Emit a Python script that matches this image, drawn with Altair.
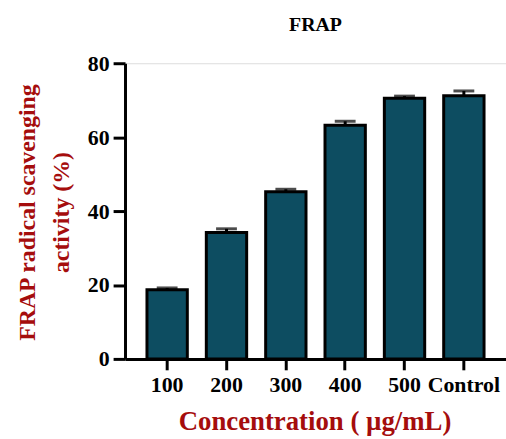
import altair as alt
import pandas as pd

categories = ["100", "200", "300", "400", "500", "Control"]
values = [18.7, 34.2, 45.2, 63.2, 70.5, 71.2]
errors = [0.5, 1.0, 0.7, 1.1, 0.6, 1.3]

df = pd.DataFrame({"conc": categories, "val": values, "err": errors})
df["hi"] = df["val"] + df["err"]

SERIF = "Liberation Serif"
RED = "#a50d0d"

x = alt.X(
    "conc:N",
    sort=categories,
    scale=alt.Scale(paddingInner=0.32, paddingOuter=0.37),
    axis=alt.Axis(
        title="Concentration ( µg/mL)",
        titleFont=SERIF, titleFontSize=27, titleFontWeight="bold", titleColor=RED,
        titleX=191, titleY=71, titleBaseline="alphabetic", titleAlign="center",
        labelFont=SERIF, labelFontSize=22, labelFontWeight="bold", labelColor="black",
        labelAngle=0, labelPadding=5,
        domainColor="black", domainWidth=3,
        tickColor="black", tickWidth=3, tickSize=11,
    ),
)

y_scale = alt.Scale(domain=[0, 80], nice=False)
y_axis = alt.Axis(
    title=["FRAP radical scavenging", "activity (%)"],
    titleFont=SERIF, titleFontSize=24, titleFontWeight="bold", titleColor=RED,
    titleX=-98, titleY=150, titleAngle=-90, titleAlign="center", titleBaseline="middle",
    titleLineHeight=34,
    values=[0, 20, 40, 60, 80],
    labelFont=SERIF, labelFontSize=22, labelFontWeight="bold", labelColor="black",
    labelPadding=4,
    domainColor="black", domainWidth=3,
    tickColor="black", tickWidth=3, tickSize=12,
    grid=False,
)

base = alt.Chart(df)

bars = base.mark_bar(fill="#0d4d61", stroke="black", strokeWidth=3).encode(
    x=x,
    y=alt.Y("val:Q", scale=y_scale, axis=y_axis),
)

err_rule = base.mark_rule(color="black", strokeWidth=3).encode(
    x=alt.X("conc:N", sort=categories),
    y="val:Q",
    y2="hi:Q",
)

caps = base.mark_tick(color="black", thickness=3, size=21).encode(
    x=alt.X("conc:N", sort=categories),
    y="hi:Q",
)

chart = (
    alt.layer(bars, err_rule, caps)
    .properties(
        width=384,
        height=298,
        title=alt.TitleParams(
            text="FRAP", font=SERIF, fontSize=20, fontWeight="bold", color="black",
            anchor="middle", frame="group", offset=17,
        ),
        autosize=alt.AutoSizeParams(type="none"),
        padding={"left": 126, "top": 62, "right": 0, "bottom": 79},
    )
    .configure_view(stroke=None)
    .configure(background="white")
)

chart.save("out.html", embed_options={"renderer": "svg", "actions": False})
